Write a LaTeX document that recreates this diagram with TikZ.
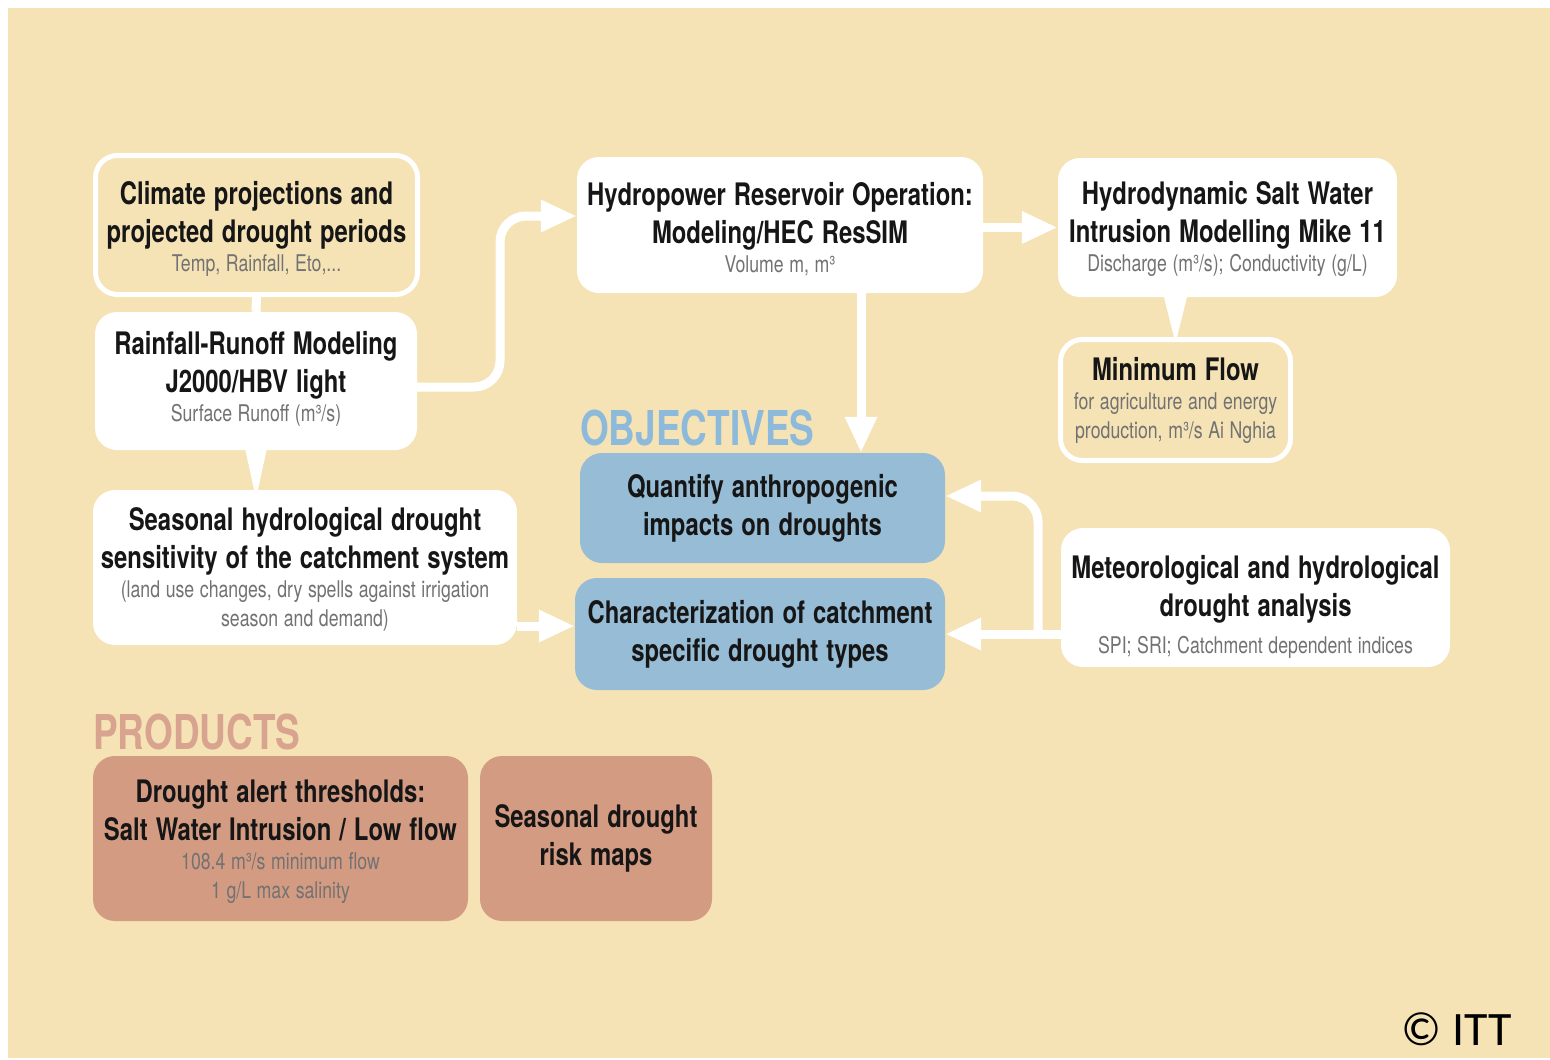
\documentclass[tikz,border=0pt]{standalone}
\usepackage{fontspec}
\usetikzlibrary{arrows.meta,calc}
\newfontfamily\hdfont{TeX Gyre Heros}[FakeStretch=0.77]
\newfontfamily\cfont{Carlito}
\definecolor{bg}{HTML}{F5E3B5}
\definecolor{objblue}{HTML}{96BCD6}
\definecolor{objlbl}{HTML}{8DBADB}
\definecolor{prodfill}{HTML}{D49B83}
\definecolor{prodlbl}{HTML}{D9A48F}
\definecolor{subgray}{HTML}{727272}
\definecolor{ink}{HTML}{161616}
% headline and subtitle faces, with a fixed word space
\newcommand\headtxt{\hdfont\bfseries\fontsize{31}{38}\selectfont\spaceskip=8pt plus 0pt minus 0pt\xspaceskip=8pt plus 0pt minus 0pt\relax\color{ink}}
\newcommand\subtxt{\hdfont\mdseries\fontsize{23}{29}\selectfont\spaceskip=5.6pt plus 0pt minus 0pt\xspaceskip=5.6pt plus 0pt minus 0pt\relax\color{subgray}}
% invisible strut that lowers the first line of a box
\newcommand\topgap[1]{\rule{0pt}{#1}}
\begin{document}
\begin{tikzpicture}[x=1pt,y=-1pt,
  box/.style={rounded corners=22pt, inner sep=0pt, align=center},
  wbox/.style={box, fill=white},
  obox/.style={box, fill=bg, draw=white, line width=5pt},
  bbox/.style={box, fill=objblue},
  pbox/.style={box, fill=prodfill},
  arr/.style={draw=white, line width=9pt, -{Triangle[length=36pt,width=30pt]}},
  link/.style={draw=white, line width=9pt},
  heading/.style={anchor=base west, inner sep=0pt, font=\hdfont\bfseries\fontsize{48}{48}\selectfont}]
% page and background
\fill[white] (0,0) rectangle (1550,1060);
\fill[bg] (8,8) rectangle (1550,1058);
\useasboundingbox (0,0) rectangle (1550,1060);

% input / modelling boxes
\node[obox, minimum width=322pt, minimum height=139pt, text width=318pt] (clim) at (256.5,225)
  {\headtxt\topgap{31pt}Climate projections and\\projected drought periods\par\subtxt Temp, Rainfall, Eto,...\par};
\node[wbox, minimum width=322pt, minimum height=138pt, text width=320pt] (rain) at (256,381)
  {\headtxt Rainfall-Runoff Modeling\\J2000/HBV light\par\subtxt Surface Runoff (m³/s)\par\vspace*{4pt}};
\node[wbox, minimum width=424pt, minimum height=155pt, text width=422pt] (seas) at (305,567.5)
  {\headtxt\topgap{27pt}Seasonal hydrological drought\\sensitivity of the catchment system\par\subtxt (land use changes, dry spells against irrigation\\season and demand)\par};
\node[wbox, minimum width=406pt, minimum height=136pt, text width=404pt] (hydro) at (780,225)
  {\headtxt\topgap{31pt}Hydropower Reservoir Operation:\\Modeling/HEC ResSIM\par\subtxt Volume m, m³\par};
\node[wbox, minimum width=339pt, minimum height=139pt, text width=337pt] (hyd) at (1227.5,227.5)
  {\headtxt\topgap{27pt}Hydrodynamic Salt Water\\Intrusion Modelling Mike 11\par\subtxt Discharge (m³/s); Conductivity (g/L)\par};
\node[obox, minimum width=230pt, minimum height=121pt, text width=226pt] (minf) at (1175.5,400)
  {\headtxt Minimum Flow\par\subtxt for agriculture and energy\\production, m³/s Ai Nghia\par};
\node[wbox, minimum width=389pt, minimum height=139pt, text width=387pt] (met) at (1255.5,597.5)
  {\headtxt\topgap{41pt}Meteorological and hydrological\\drought analysis\par\vspace{8pt}\subtxt SPI; SRI; Catchment dependent indices\par};

% objectives
\node[heading, text=objlbl] (objl) at (580,445) {OBJECTIVES};
\node[bbox, minimum width=365pt, minimum height=110pt, text width=363pt] (quant) at (762.5,508)
  {\headtxt Quantify anthropogenic\\impacts on droughts\par};
\node[bbox, minimum width=370pt, minimum height=112pt, text width=368pt] (char) at (760,634)
  {\headtxt Characterization of catchment\\specific drought types\par};

% products
\node[heading, text=prodlbl] (prodl) at (93,749) {PRODUCTS};
\node[pbox, minimum width=375pt, minimum height=165pt, text width=373pt] (alert) at (280.5,838.5)
  {\headtxt\topgap{29pt}Drought alert thresholds:\\Salt Water Intrusion / Low flow\par\subtxt 108.4 m³/s minimum flow\\1 g/L max salinity\par};
\node[pbox, minimum width=232pt, minimum height=165pt, text width=230pt] (maps) at (596,838.5)
  {\headtxt Seasonal drought\\risk maps\par};

% connectors
\draw[link] (clim.south) -- (rain.north);
\fill[white] ($(rain.south)+(-11,-2)$) -- ($(rain.south)+(11,-2)$)
  -- ($(rain.south |- seas.north)+(1.5,2)$) -- ($(rain.south |- seas.north)+(-1.5,2)$) -- cycle;
\fill[white] ($(minf.north |- hyd.south)+(-12,-2)$) -- ($(minf.north |- hyd.south)+(12,-2)$)
  -- ($(minf.north)+(1.5,0)$) -- ($(minf.north)+(-1.5,0)$) -- cycle;
\draw[arr, rounded corners=26pt] ($(rain.east)+(0,6)$) -| (500,216) -- (hydro.west |- 0,216);
\draw[arr] (hydro.east |- hyd.west) -- (hyd.west);
\coordinate (dn) at (861,0);
\draw[arr] (hydro.south -| dn) -- (quant.north -| dn);
\draw[arr] (seas.east |- 0,626) -- (char.west |- 0,626);
\draw[arr] (met.west |- char.east) -- (char.east);
\coordinate (br) at (1038,634);
\draw[arr, rounded corners=26pt] (br) |- (quant.east |- 0,496);

% credit
\node[anchor=base east, inner sep=0pt, font=\cfont\fontsize{48}{48}\selectfont] (credit) at (1512,1045) {© ITT};
\end{tikzpicture}
\end{document}
